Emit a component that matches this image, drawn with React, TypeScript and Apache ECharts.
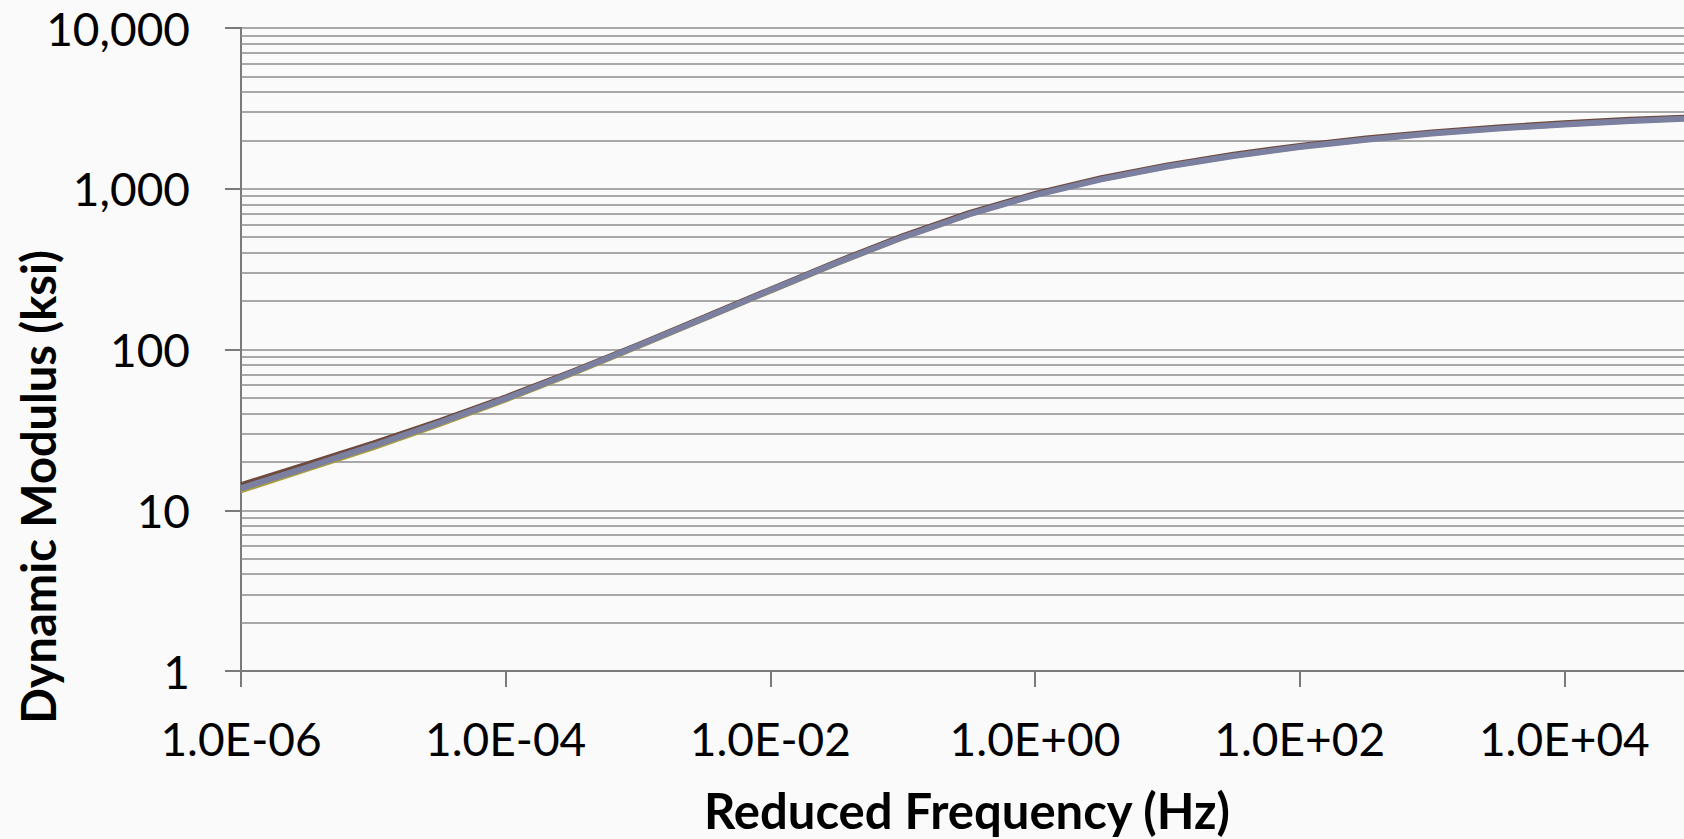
import React, { useEffect, useRef } from "react";
import * as echarts from "echarts";

// Reduced frequency (Hz), half-decade steps
const frequencies = [
  1e-6, 3.16e-6, 1e-5, 3.16e-5, 1e-4, 3.16e-4, 1e-3, 3.16e-3, 1e-2, 3.16e-2,
  1e-1, 3.16e-1, 1, 3.16, 10, 31.6, 100, 316, 1000, 3160, 1e4, 3.16e4, 1e5,
  3.16e5, 1e6,
];

// Dynamic modulus (ksi)
const mixBrown = [
  14.6, 19.6, 26.5, 36.5, 51.3, 74.0, 108.5, 161.2, 240.1, 356.5, 516.9, 716.7,
  944.8, 1184, 1423, 1658, 1881, 2091, 2282, 2451, 2602, 2731, 2841, 2933, 3009,
];
const mixOlive = [
  13.0, 17.7, 24.1, 33.6, 47.8, 69.3, 102.4, 152.3, 226.8, 336.5, 488.4, 679.3,
  899.2, 1127, 1355, 1578, 1791, 1990, 2172, 2333, 2477, 2599, 2704, 2791, 2863,
];
const mixBlue = [
  13.7, 18.5, 25.2, 35.0, 49.5, 71.6, 105.4, 156.7, 233.3, 345.1, 498.9, 691.8,
  912, 1143, 1374, 1600, 1816, 2018, 2203, 2366, 2512, 2636, 2742, 2831, 2904,
];

// minor gridlines of the log y axis
const yMinorGrid = [
  2, 3, 4, 5, 6, 7, 8, 9, 20, 30, 40, 50, 60, 70, 80, 90, 200, 300, 400, 500,
  600, 700, 800, 900, 2000, 3000, 4000, 5000, 6000, 7000, 8000, 9000,
];

const xTitle = "Reduced Frequency (Hz)";
const yTitle = "Dynamic Modulus (ksi)";

const FONT = "Lato, 'Open Sans', sans-serif";
const AXIS_COLOR = "#7a7a7a";
const GRID_COLOR = "#8c8c8c";

function toPairs(vals: number[]) {
  return frequencies.map((f, i) => [Math.log10(f), vals[i]]);
}

function fmtExp(v: number) {
  const e = Math.round(v);
  if (e > 4) return "";
  return "1.0E" + (e < 0 ? "-" : "+") + String(Math.abs(e)).padStart(2, "0");
}

export default function App() {
  const ref = useRef<HTMLDivElement>(null);
  useEffect(() => {
    if (!ref.current) return;
    const chart = echarts.init(ref.current, undefined, { renderer: "svg" });
    const lineCommon = {
      type: "line" as const,
      showSymbol: false,
      smooth: false,
      silent: true,
    };
    chart.setOption({
      animation: false,
      backgroundColor: "#fafafa",
      grid: {
        left: 241,
        top: 28,
        width: 1588,
        height: 643,
        outerBoundsMode: "none",
        containLabel: false,
      },
      xAxis: {
        type: "value",
        min: -6,
        max: 6,
        interval: 2,
        axisLine: { show: true, onZero: false, lineStyle: { color: AXIS_COLOR, width: 2 } },
        axisTick: { show: true, length: 16, lineStyle: { color: AXIS_COLOR, width: 2 } },
        splitLine: { show: false },
        axisLabel: {
          formatter: fmtExp,
          showMaxLabel: false,
          fontFamily: FONT,
          fontSize: 46,
          color: "#000",
          margin: 44,
        },
      },
      yAxis: {
        type: "log",
        logBase: 10,
        min: 1,
        max: 10000,
        axisLine: { show: true, onZero: false, lineStyle: { color: AXIS_COLOR, width: 2 } },
        axisTick: { show: true, length: 16, lineStyle: { color: AXIS_COLOR, width: 2 } },
        splitLine: { show: true, lineStyle: { color: GRID_COLOR, width: 1.5 } },
        axisLabel: {
          formatter: (v: number) => Math.round(v).toLocaleString("en-US"),
          fontFamily: FONT,
          fontSize: 46,
          color: "#000",
          margin: 51,
        },
      },
      graphic: [
        {
          type: "text",
          x: 967,
          y: 810,
          style: {
            text: xTitle,
            fontFamily: FONT,
            fontSize: 49,
            lineHeight: 49,
            fontWeight: "bold",
            fill: "#000",
            align: "center",
            verticalAlign: "middle",
          },
        },
        {
          type: "text",
          x: 38,
          y: 487,
          rotation: Math.PI / 2,
          style: {
            text: yTitle,
            fontFamily: FONT,
            fontSize: 47,
            fontWeight: "bold",
            fill: "#000",
            align: "center",
            verticalAlign: "middle",
          },
        },
      ],
      series: [
        {
          ...lineCommon,
          name: "Mix 3",
          data: toPairs(mixOlive),
          lineStyle: { color: "#ab9c3e", width: 3 },
          markLine: {
            silent: true,
            z: 1,
            symbol: ["none", "none"],
            label: { show: false },
            lineStyle: { color: GRID_COLOR, width: 1.5, type: "solid" },
            data: yMinorGrid.map((v) => ({ yAxis: v })),
          },
        },
        {
          ...lineCommon,
          name: "Mix 1",
          data: toPairs(mixBrown),
          lineStyle: { color: "#6e4a3e", width: 3.5 },
        },
        {
          ...lineCommon,
          name: "Mix 2",
          data: toPairs(mixBlue),
          lineStyle: { color: "#7b80a0", width: 6 },
        },
      ],
    });
    return () => chart.dispose();
  }, []);
  return (
    <div
      ref={ref}
      style={{ position: "fixed", left: 0, top: 0, width: 1684, height: 839, overflow: "hidden" }}
    />
  );
}
